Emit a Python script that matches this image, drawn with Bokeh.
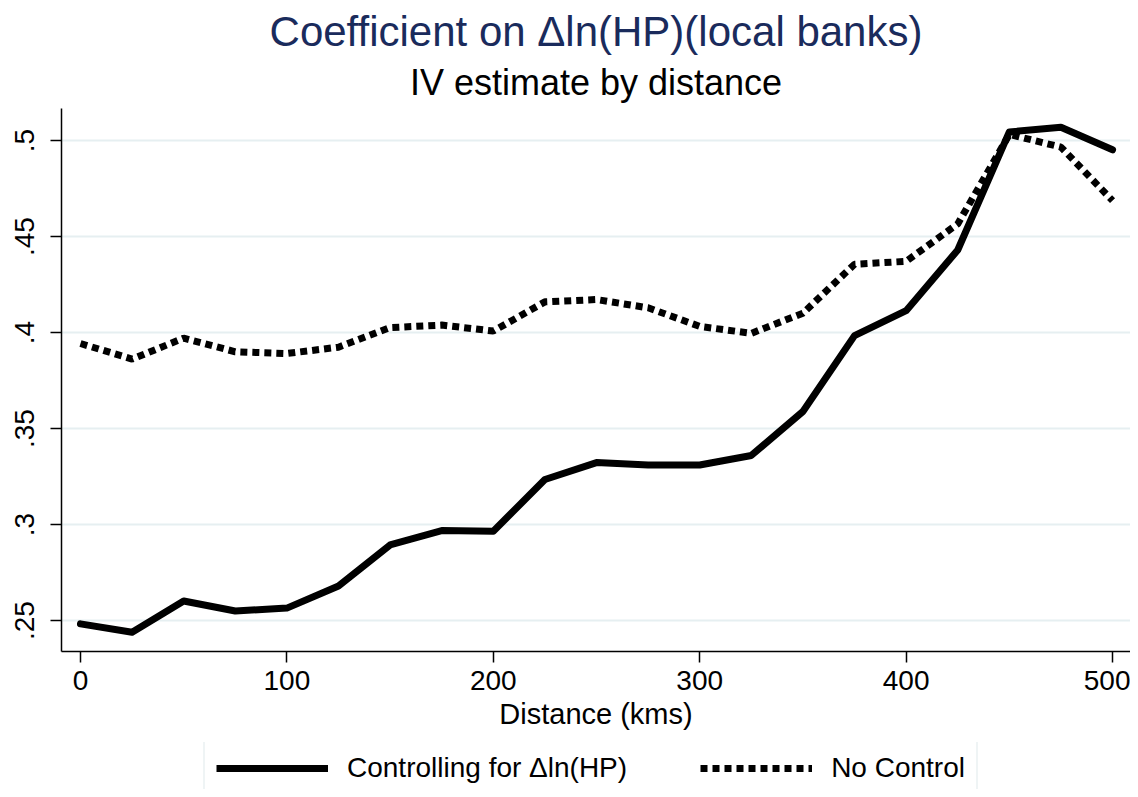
from bokeh.plotting import figure
from bokeh.layouts import column
from bokeh.models import (Range1d, FixedTicker, Legend, LegendItem, Title)
from bokeh.embed import file_html
from bokeh.resources import INLINE

# ---- data ----
distance = [0, 25, 50, 75, 100, 125, 150, 175, 200, 225, 250, 275, 300,
            325, 350, 375, 400, 425, 450, 475, 500]
controlling = [0.2483, 0.2439, 0.2602, 0.2550, 0.2565, 0.2680, 0.2894, 0.2969,
               0.2965, 0.3235, 0.3323, 0.3310, 0.3310, 0.3360, 0.3589, 0.3984,
               0.4114, 0.4430, 0.5045, 0.5069, 0.4952]
no_control = [0.3943, 0.3862, 0.3971, 0.3900, 0.3891, 0.3924, 0.4026, 0.4039,
              0.4008, 0.4160, 0.4172, 0.4129, 0.4032, 0.3996, 0.4101, 0.4356,
              0.4371, 0.4566, 0.5032, 0.4966, 0.4687]
xticks = [0, 100, 200, 300, 400, 500]
yticks = [0.25, 0.3, 0.35, 0.4, 0.45, 0.5]
ytick_labels = [".25", ".3", ".35", ".4", ".45", ".5"]
series_labels = ["Controlling for \u0394ln(HP)", "No Control"]
title_text = "Coefficient on \u0394ln(HP)(local banks)"
subtitle_text = "IV estimate by distance"
xlabel = "Distance (kms)"

FONT = "Liberation Sans"
W = 1130
H_MAIN = 742
H_LEG = 47

p = figure(width=W, height=H_MAIN, output_backend="svg", toolbar_location=None,
           x_range=Range1d(-9.2, 508.7), y_range=Range1d(0.2339, 0.5167),
           min_border_left=61, min_border_right=0, min_border_top=108,
           min_border_bottom=91, background_fill_color="white",
           border_fill_color="white")
p.outline_line_color = None

# titles
p.add_layout(Title(text=subtitle_text, align="center", text_font=FONT,
                   text_font_size="36px", text_font_style="normal",
                   text_color="black", standoff=11), "above")
p.add_layout(Title(text=title_text, align="center", text_font=FONT,
                   text_font_size="42px", text_font_style="normal",
                   text_color="#1a2b5c", standoff=0), "above")

# axes
xa = p.xaxis[0]
xa.ticker = FixedTicker(ticks=xticks)
xa.minor_tick_line_color = None
xa.major_tick_out = 11
xa.major_tick_in = 0
xa.major_tick_line_width = 1.5
xa.axis_line_width = 1.5
xa.major_label_standoff = 8
xa.major_label_text_font = FONT
xa.major_label_text_font_size = "28px"
xa.major_label_text_color = "black"
xa.axis_label = xlabel
xa.axis_label_text_font = FONT
xa.axis_label_text_font_size = "29px"
xa.axis_label_text_font_style = "normal"
xa.axis_label_text_color = "black"
xa.axis_label_standoff = 5

ya = p.yaxis[0]
ya.ticker = FixedTicker(ticks=yticks)
ya.major_label_overrides = {t: l for t, l in zip(yticks, ytick_labels)}
ya.minor_tick_line_color = None
ya.major_tick_out = 11
ya.major_tick_in = 0
ya.major_tick_line_width = 1.5
ya.axis_line_width = 1.5
ya.major_label_orientation = "parallel"
ya.major_label_standoff = 16
ya.major_label_text_font = FONT
ya.major_label_text_font_size = "28px"
ya.major_label_text_color = "black"

p.xgrid.grid_line_color = None
p.ygrid.grid_line_color = "#e6eff1"
p.ygrid.grid_line_width = 2
p.ygrid.ticker = FixedTicker(ticks=yticks)

p.line(distance, no_control, line_color="black", line_width=7,
       line_dash="7 5")
p.line(distance, controlling, line_color="black", line_width=7,
       line_cap="round", line_join="round")

# ---- legend strip (legend glyph renderers kept outside its visible range) ----
lf = figure(width=W, height=H_LEG, output_backend="svg", toolbar_location=None,
            x_range=Range1d(1000, 1001), y_range=Range1d(1000, 1001),
            x_axis_type=None, y_axis_type=None, min_border=0,
            background_fill_color="white", border_fill_color="white")
lf.outline_line_color = None
lf.xgrid.visible = False
lf.ygrid.visible = False
g1 = lf.line(distance, controlling, line_color="black", line_width=7)
g2 = lf.line(distance, no_control, line_color="black", line_width=7,
             line_dash="7 5")

legend = Legend(items=[LegendItem(label=series_labels[0], renderers=[g1]),
                       LegendItem(label=series_labels[1], renderers=[g2])],
                orientation="horizontal", location=(142, -8))
legend.label_text_font = FONT
legend.label_text_font_size = "28px"
legend.label_text_color = "black"
legend.glyph_width = 112
legend.glyph_height = 24
legend.label_standoff = 19
legend.spacing = 73
legend.padding = 11
legend.margin = 0
legend.border_line_color = "#dfe9ec"
legend.border_line_width = 2
legend.background_fill_color = "white"
lf.add_layout(legend, "center")

layout = column(p, lf, spacing=0)
open("out.html", "w").write(file_html(layout, INLINE))
